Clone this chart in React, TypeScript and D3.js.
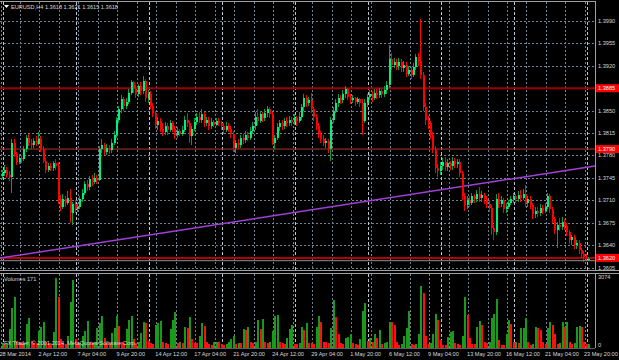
import React from "react";
import * as d3 from "d3";

const W = 619;
const H = 360;

const opens = [
  1.3748,1.3752,1.3758,1.3750,1.3746,1.3800,1.3782,1.3770,1.3776,1.3774,
  1.3790,1.3808,1.3800,1.3796,1.3803,1.3798,1.3806,1.3790,1.3772,1.3758,
  1.3764,1.3760,1.3768,1.3764,1.3712,1.3700,1.3712,1.3706,1.3714,1.3690,
  1.3704,1.3696,1.3700,1.3712,1.3722,1.3735,1.3730,1.3744,1.3738,1.3745,
  1.3742,1.3790,1.3796,1.3786,1.3792,1.3788,1.3800,1.3812,1.3836,1.3852,
  1.3868,1.3858,1.3864,1.3878,1.3894,1.3884,1.3876,1.3888,1.3880,1.3896,
  1.3870,1.3876,1.3858,1.3846,1.3828,1.3834,1.3822,1.3816,1.3826,1.3820,
  1.3830,1.3822,1.3812,1.3818,1.3814,1.3820,1.3836,1.3830,1.3810,1.3822,
  1.3832,1.3840,1.3836,1.3844,1.3830,1.3836,1.3826,1.3832,1.3828,1.3834,
  1.3830,1.3826,1.3820,1.3826,1.3822,1.3814,1.3792,1.3800,1.3796,1.3808,
  1.3804,1.3812,1.3808,1.3818,1.3826,1.3840,1.3834,1.3844,1.3838,1.3846,
  1.3852,1.3844,1.3800,1.3808,1.3824,1.3830,1.3826,1.3834,1.3830,1.3836,
  1.3832,1.3838,1.3834,1.3840,1.3856,1.3870,1.3862,1.3866,1.3852,1.3840,
  1.3826,1.3814,1.3806,1.3800,1.3802,1.3790,1.3836,1.3850,1.3862,1.3870,
  1.3866,1.3876,1.3884,1.3872,1.3866,1.3870,1.3864,1.3868,1.3862,1.3834,
  1.3862,1.3872,1.3876,1.3870,1.3878,1.3874,1.3880,1.3876,1.3882,1.3890,
  1.3930,1.3922,1.3926,1.3920,1.3926,1.3916,1.3922,1.3908,1.3914,1.3906,
  1.3918,1.3934,1.3928,1.3905,1.3856,1.3836,1.3830,1.3812,1.3790,1.3760,
  1.3756,1.3764,1.3770,1.3762,1.3768,1.3764,1.3772,1.3766,1.3770,1.3752,
  1.3716,1.3702,1.3710,1.3706,1.3716,1.3712,1.3720,1.3714,1.3718,1.3712,
  1.3704,1.3698,1.3666,1.3660,1.3712,1.3704,1.3710,1.3696,1.3700,1.3706,
  1.3712,1.3716,1.3712,1.3718,1.3714,1.3720,1.3706,1.3712,1.3702,1.3688,
  1.3694,1.3690,1.3698,1.3694,1.3700,1.3716,1.3696,1.3680,1.3664,1.3672,
  1.3668,1.3676,1.3670,1.3660,1.3648,1.3652,1.3640,1.3644,1.3632,1.3626,
  1.3622,1.3618,
];

const highs = [
  1.3758,1.3765,1.3762,1.3755,1.3806,1.3805,1.3786,1.3782,1.3781,1.3795,
  1.3812,1.3814,1.3806,1.3808,1.3810,1.3816,1.3810,1.3794,1.3776,1.3768,
  1.3768,1.3772,1.3774,1.3770,1.3718,1.3720,1.3716,1.3724,1.3728,1.3708,
  1.3710,1.3706,1.3716,1.3728,1.3740,1.3742,1.3748,1.3750,1.3752,1.3750,
  1.3794,1.3805,1.3800,1.3798,1.3797,1.3806,1.3818,1.3840,1.3858,1.3874,
  1.3872,1.3870,1.3884,1.3898,1.3897,1.3890,1.3892,1.3894,1.3904,1.3900,
  1.3882,1.3880,1.3862,1.3850,1.3840,1.3838,1.3830,1.3832,1.3830,1.3836,
  1.3834,1.3826,1.3824,1.3822,1.3826,1.3842,1.3846,1.3834,1.3826,1.3838,
  1.3846,1.3848,1.3852,1.3848,1.3840,1.3840,1.3838,1.3836,1.3838,1.3838,
  1.3834,1.3830,1.3832,1.3830,1.3826,1.3818,1.3804,1.3806,1.3812,1.3814,
  1.3818,1.3816,1.3824,1.3832,1.3848,1.3852,1.3850,1.3848,1.3852,1.3858,
  1.3856,1.3848,1.3812,1.3830,1.3836,1.3836,1.3838,1.3840,1.3842,1.3840,
  1.3844,1.3842,1.3848,1.3860,1.3876,1.3874,1.3872,1.3878,1.3856,1.3844,
  1.3830,1.3818,1.3812,1.3808,1.3806,1.3840,1.3856,1.3868,1.3876,1.3874,
  1.3882,1.3888,1.3886,1.3876,1.3874,1.3872,1.3872,1.3870,1.3868,1.3868,
  1.3876,1.3882,1.3880,1.3884,1.3884,1.3886,1.3884,1.3888,1.3896,1.3952,
  1.3940,1.3932,1.3930,1.3932,1.3930,1.3928,1.3926,1.3920,1.3918,1.3924,
  1.3938,1.3940,1.3993,1.3910,1.3862,1.3842,1.3834,1.3816,1.3794,1.3766,
  1.3770,1.3776,1.3778,1.3774,1.3772,1.3778,1.3776,1.3774,1.3774,1.3756,
  1.3722,1.3716,1.3716,1.3722,1.3720,1.3726,1.3730,1.3724,1.3722,1.3716,
  1.3710,1.3702,1.3672,1.3720,1.3722,1.3716,1.3714,1.3706,1.3710,1.3716,
  1.3722,1.3720,1.3724,1.3726,1.3728,1.3734,1.3716,1.3716,1.3706,1.3700,
  1.3700,1.3704,1.3702,1.3706,1.3722,1.3720,1.3700,1.3684,1.3676,1.3682,
  1.3684,1.3680,1.3674,1.3664,1.3656,1.3656,1.3648,1.3648,1.3636,1.3630,
  1.3626,1.3621,
];

const lows = [
  1.3744,1.3748,1.3745,1.3740,1.3721,1.3778,1.3765,1.3766,1.3768,1.3771,
  1.3786,1.3795,1.3790,1.3792,1.3794,1.3796,1.3786,1.3768,1.3752,1.3754,
  1.3755,1.3756,1.3758,1.3704,1.3694,1.3696,1.3700,1.3702,1.3674,1.3672,
  1.3690,1.3692,1.3696,1.3708,1.3718,1.3724,1.3726,1.3732,1.3735,1.3736,
  1.3740,1.3784,1.3780,1.3780,1.3782,1.3784,1.3796,1.3808,1.3830,1.3846,
  1.3850,1.3852,1.3860,1.3874,1.3878,1.3870,1.3872,1.3874,1.3876,1.3864,
  1.3862,1.3852,1.3840,1.3822,1.3820,1.3816,1.3810,1.3812,1.3812,1.3816,
  1.3816,1.3806,1.3808,1.3810,1.3810,1.3816,1.3824,1.3800,1.3796,1.3818,
  1.3828,1.3830,1.3830,1.3824,1.3826,1.3820,1.3822,1.3824,1.3826,1.3826,
  1.3820,1.3814,1.3816,1.3816,1.3808,1.3786,1.3784,1.3790,1.3792,1.3798,
  1.3800,1.3802,1.3804,1.3814,1.3820,1.3828,1.3830,1.3832,1.3834,1.3840,
  1.3838,1.3796,1.3790,1.3804,1.3818,1.3820,1.3822,1.3824,1.3826,1.3826,
  1.3828,1.3826,1.3830,1.3836,1.3850,1.3856,1.3858,1.3846,1.3834,1.3820,
  1.3808,1.3800,1.3794,1.3792,1.3784,1.3772,1.3830,1.3846,1.3856,1.3860,
  1.3862,1.3870,1.3866,1.3860,1.3862,1.3858,1.3860,1.3856,1.3812,1.3830,
  1.3856,1.3866,1.3864,1.3866,1.3868,1.3870,1.3870,1.3872,1.3876,1.3886,
  1.3914,1.3916,1.3914,1.3914,1.3910,1.3910,1.3902,1.3904,1.3900,1.3902,
  1.3914,1.3920,1.3900,1.3850,1.3828,1.3822,1.3806,1.3784,1.3752,1.3746,
  1.3750,1.3758,1.3756,1.3756,1.3758,1.3758,1.3760,1.3760,1.3746,1.3710,
  1.3694,1.3696,1.3700,1.3702,1.3706,1.3708,1.3708,1.3708,1.3704,1.3698,
  1.3692,1.3656,1.3648,1.3656,1.3698,1.3700,1.3690,1.3690,1.3696,1.3702,
  1.3706,1.3706,1.3708,1.3708,1.3710,1.3700,1.3700,1.3696,1.3680,1.3682,
  1.3684,1.3686,1.3688,1.3690,1.3696,1.3690,1.3674,1.3658,1.3636,1.3662,
  1.3664,1.3664,1.3654,1.3642,1.3640,1.3634,1.3634,1.3626,1.3620,1.3614,
  1.3615,1.3615,
];

const closes = [
  1.3752,1.3758,1.3750,1.3746,1.3800,1.3782,1.3770,1.3776,1.3774,1.3790,
  1.3808,1.3800,1.3796,1.3803,1.3798,1.3806,1.3790,1.3772,1.3758,1.3764,
  1.3760,1.3768,1.3764,1.3712,1.3700,1.3712,1.3706,1.3714,1.3690,1.3704,
  1.3696,1.3700,1.3712,1.3722,1.3735,1.3730,1.3744,1.3738,1.3745,1.3742,
  1.3790,1.3796,1.3786,1.3792,1.3788,1.3800,1.3812,1.3836,1.3852,1.3868,
  1.3858,1.3864,1.3878,1.3894,1.3884,1.3876,1.3888,1.3880,1.3896,1.3870,
  1.3876,1.3858,1.3846,1.3828,1.3834,1.3822,1.3816,1.3826,1.3820,1.3830,
  1.3822,1.3812,1.3818,1.3814,1.3820,1.3836,1.3830,1.3810,1.3822,1.3832,
  1.3840,1.3836,1.3844,1.3830,1.3836,1.3826,1.3832,1.3828,1.3834,1.3830,
  1.3826,1.3820,1.3826,1.3822,1.3814,1.3792,1.3800,1.3796,1.3808,1.3804,
  1.3812,1.3808,1.3818,1.3826,1.3840,1.3834,1.3844,1.3838,1.3846,1.3852,
  1.3844,1.3800,1.3808,1.3824,1.3830,1.3826,1.3834,1.3830,1.3836,1.3832,
  1.3838,1.3834,1.3840,1.3856,1.3870,1.3862,1.3866,1.3852,1.3840,1.3826,
  1.3814,1.3806,1.3800,1.3802,1.3790,1.3836,1.3850,1.3862,1.3870,1.3866,
  1.3876,1.3884,1.3872,1.3866,1.3870,1.3864,1.3868,1.3862,1.3834,1.3862,
  1.3872,1.3876,1.3870,1.3878,1.3874,1.3880,1.3876,1.3882,1.3890,1.3930,
  1.3922,1.3926,1.3920,1.3926,1.3916,1.3922,1.3908,1.3914,1.3906,1.3918,
  1.3934,1.3928,1.3905,1.3856,1.3836,1.3830,1.3812,1.3790,1.3760,1.3756,
  1.3764,1.3770,1.3762,1.3768,1.3764,1.3772,1.3766,1.3770,1.3752,1.3716,
  1.3702,1.3710,1.3706,1.3716,1.3712,1.3720,1.3714,1.3718,1.3712,1.3704,
  1.3698,1.3666,1.3660,1.3712,1.3704,1.3710,1.3696,1.3700,1.3706,1.3712,
  1.3716,1.3712,1.3718,1.3714,1.3720,1.3706,1.3712,1.3702,1.3688,1.3694,
  1.3690,1.3698,1.3694,1.3700,1.3716,1.3696,1.3680,1.3664,1.3672,1.3668,
  1.3676,1.3670,1.3660,1.3648,1.3652,1.3640,1.3644,1.3632,1.3626,1.3622,
  1.3619,1.3618,
];

const volumes = [
  200,
  150,200,800,1740,2220,280,
  250,180,200,1020,1300,300,
  200,180,700,900,1100,250,
  200,150,680,3040,2200,370,
  200,150,500,1980,2940,350,
  150,200,500,720,1150,250,
  200,250,860,1070,1370,430,
  200,180,650,860,1370,940,
  250,200,820,1200,1370,370,
  200,250,650,1120,1050,300,
  180,150,980,1070,1150,250,
  200,150,800,1190,1550,200,
  250,200,890,860,1350,370,
  200,180,500,1070,940,250,
  150,120,220,260,250,150,
  120,150,220,380,500,150,
  200,180,800,770,910,250,
  200,250,1220,820,1250,250,
  200,250,720,1370,1400,250,
  180,150,430,820,970,150,
  150,200,910,750,1070,200,
  200,150,910,1390,1130,250,
  250,200,870,2070,1350,610,
  200,150,400,470,570,200,
  150,120,380,1590,1950,280,
  400,260,610,400,760,170,
  200,250,1130,1130,980,230,
  120,150,500,870,1570,170,
  100,150,610,2680,2380,500,
  170,200,590,1440,1200,330,
  130,120,470,680,700,200,
  150,120,500,2215,1410,430,
  150,140,910,1150,980,260,
  200,250,1300,1480,2100,330,
  130,120,610,1200,1020,230,
  250,200,830,860,1270,230,
  130,150,910,830,760,260,
  150,870,1130,980,610,170,
  200,1130,900,1130,230,150,
  200,910,950,900,230,150,
  171,
];

const priceTicks = [1.399, 1.3955, 1.392, 1.3885, 1.385, 1.3815, 1.378, 1.3745, 1.371, 1.3675, 1.364, 1.3605];
const timeLabelIdx = [0, 16, 32, 48, 64, 80, 96, 112, 128, 144, 160, 176, 192, 208, 224, 240];
const timeLabelText = [
  "28 Mar 2014", "2 Apr 12:00", "7 Apr 04:00", "9 Apr 20:00", "14 Apr 12:00", "17 Apr 04:00",
  "21 Apr 20:00", "24 Apr 12:00", "29 Apr 04:00", "1 May 20:00", "6 May 12:00", "9 May 04:00",
  "13 May 20:00", "16 May 12:00", "21 May 04:00", "23 May 20:00",
];
const weekStartIdx = [1, 31, 61, 91, 121, 151, 181, 211, 241];
const levelPrices = [1.3885, 1.379, 1.362];
const levelWidths = [2, 1, 2];
const levelColors = ["#9a0000", "#a83a2a", "#b00000"];
const trendIdx = [0, 241];
const trendPrice = [1.362, 1.3762];
const bidPrice = 1.3618;
const volMax = 3074;
const header = "EURUSD,H4  1.3618 1.3621 1.3615 1.3618";

const FONT = "'Liberation Sans', Arial, sans-serif";
const FS = 5.6;
const TXT = "#d8d8d8";
const GRID = "#6f8194";

export default function App() {
  const n = closes.length;
  const x = d3.scaleLinear().domain([0, n - 1]).range([1.5, 1.5 + 2.435 * (n - 1)]);
  const y = d3.scaleLinear().domain([1.3605, 1.399]).range([267.5, 21]);
  const yv = d3.scaleLinear().domain([0, volMax]).range([347.5, 277]);
  const right = 595;

  const gridX: number[] = [];
  for (let i = 0; i < n; i += 8) gridX.push(Math.round(x(i)) - 0.5);

  const trendFn = d3.scaleLinear().domain(trendIdx.map((i) => x(i))).range(trendPrice.map((p) => y(p)));

  return (
    <svg width={W} height={H} style={{ position: "absolute", left: 0, top: 0, background: "#000" }}
      fontFamily={FONT}>
      <rect x={0} y={0} width={W} height={H} fill="#000" />
      {/* grid */}
      <g stroke={GRID} strokeWidth={1} strokeDasharray="2,2" shapeRendering="crispEdges">
        {priceTicks.map((p, i) => (
          <line key={"h" + i} x1={0} x2={right} y1={Math.round(y(p)) + 0.5} y2={Math.round(y(p)) + 0.5} />
        ))}
        {gridX.map((gx, i) => (
          <line key={"v" + i} x1={gx} x2={gx} y1={2} y2={270} />
        ))}
        {gridX.map((gx, i) => (
          <line key={"vv" + i} x1={gx} x2={gx} y1={274} y2={348} />
        ))}
      </g>
      <g stroke="#b8c4d0" strokeWidth={1} strokeDasharray="3,2" shapeRendering="crispEdges">
        {weekStartIdx.map((i, k) => {
          const sx = Math.round(x(i) - 1.2) + 0.5;
          return (
            <g key={"w" + k}>
              <line x1={sx} x2={sx} y1={2} y2={270} />
              <line x1={sx} x2={sx} y1={274} y2={348} />
            </g>
          );
        })}
      </g>
      {/* horizontal levels */}
      {levelPrices.map((p, i) => (
        <line key={"l" + i} x1={0} x2={right} y1={y(p)} y2={y(p)} stroke={levelColors[i]}
          strokeWidth={levelWidths[i]} />
      ))}
      {/* trendline */}
      <line x1={0} x2={right} y1={trendFn(0)} y2={trendFn(right)} stroke="#a040d8" strokeWidth={1.5} />
      {/* candles */}
      <g shapeRendering="crispEdges">
        {closes.map((c, i) => {
          const o = opens[i];
          const up = c >= o;
          const cx = Math.round(x(i));
          const top = y(Math.max(o, c));
          const bot = y(Math.min(o, c));
          return (
            <g key={"c" + i}>
              <line x1={cx + 0.5} x2={cx + 0.5} y1={y(highs[i])} y2={y(lows[i])}
                stroke={up ? "#00a040" : "#ff0000"} strokeWidth={1} />
              <rect x={cx - 0.5} y={top} width={2} height={Math.max(1, bot - top)}
                fill={up ? "#00f080" : "#ff0000"} />
            </g>
          );
        })}
      </g>
      {/* bid line */}
      <line x1={0} x2={right} y1={y(bidPrice) + 1.5} y2={y(bidPrice) + 1.5} stroke="#8a9099" strokeWidth={1} />
      {/* frames */}
      <g stroke="#a0a0a0" strokeWidth={1} fill="none" shapeRendering="crispEdges">
        <line x1={0} x2={right} y1={1.5} y2={1.5} />
        <line x1={right + 0.5} x2={right + 0.5} y1={1} y2={271} />
        <line x1={0} x2={W} y1={270.5} y2={270.5} />
        <line x1={0} x2={W} y1={273.5} y2={273.5} />
        <line x1={right + 0.5} x2={right + 0.5} y1={273} y2={348} />
        <line x1={0} x2={right} y1={348.5} y2={348.5} stroke="#606060" />
      </g>
      {/* price labels */}
      {priceTicks.map((p, i) => (
        <text key={"pt" + i} x={598} y={y(p) + 2} fontSize={FS} fill={TXT}>{p.toFixed(4)}</text>
      ))}
      {levelPrices.map((p, i) => (
        <g key={"lb" + i}>
          <rect x={596} y={y(p) - 4} width={23} height={8} fill="#ff0000" />
          <text x={598} y={y(p) + 2} fontSize={FS} fill="#ffffff">{p.toFixed(4)}</text>
        </g>
      ))}
      {/* header */}
      <path d="M4,5 L9,5 L6.5,8 Z" fill="#ffffff" />
      <text x={11} y={9} fontSize={FS} fill={TXT}>{header}</text>
      {/* volumes */}
      <g shapeRendering="crispEdges">
        {volumes.map((v, i) => {
          const up = i === 0 ? true : v > volumes[i - 1];
          const cx = Math.round(x(i));
          return (
            <rect key={"v" + i} x={cx - 0.5} y={yv(v)} width={2} height={yv(0) - yv(v)}
              fill={up ? "#1a9a1a" : "#ff1010"} />
          );
        })}
      </g>
      <text x={4} y={281} fontSize={FS} fill={TXT}>{"Volumes " + volumes[n - 1]}</text>
      <text x={4} y={345} fontSize={FS} fill={TXT}>FX Trader, © 2001-2014, MetaQuotes Software Corp.</text>
      <text x={598} y={279} fontSize={FS} fill={TXT}>{volMax}</text>
      <text x={598} y={347} fontSize={FS} fill={TXT}>0</text>
      {/* time labels */}
      {timeLabelIdx.map((i, k) => (
        <text key={"tl" + k} x={x(i) - 2} y={356} fontSize={FS} fill={TXT}>{timeLabelText[k]}</text>
      ))}
    </svg>
  );
}
